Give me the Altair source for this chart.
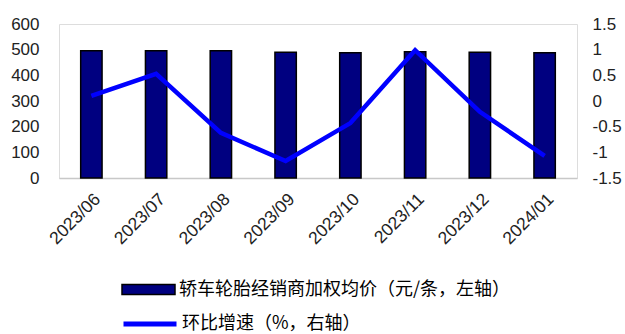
import altair as alt
import pandas as pd

months = ["2023/06", "2023/07", "2023/08", "2023/09", "2023/10", "2023/11", "2023/12", "2024/01"]
price = [496, 496, 496, 490, 488, 492, 490, 488]
mom = [0.1, 0.53, -0.62, -1.17, -0.43, 0.99, -0.21, -1.07]

bar_name = "轿车轮胎经销商加权均价（元/条，左轴）"
line_name = "环比增速（%，右轴）"

df = pd.DataFrame({"month": months, "price": price, "mom": mom,
                   "s1": [bar_name] * len(months), "s2": [line_name] * len(months)})

num_font = "Liberation Sans"
cjk_font = "Noto Sans CJK SC"

x_enc = alt.X("month:N", sort=months, title=None,
              scale=alt.Scale(paddingInner=0.67, paddingOuter=0.335),
              axis=alt.Axis(labelAngle=-45, labelFontSize=17.5, labelFont=num_font,
                            labelColor="#222222", ticks=False, domainColor="#c8c8c8",
                            domainWidth=1.5, labelPadding=12, grid=False))

bars = alt.Chart(df).mark_bar(stroke="black", strokeWidth=1.5).encode(
    x=x_enc,
    y=alt.Y("price:Q", title=None,
            scale=alt.Scale(domain=[0, 600], nice=False),
            axis=alt.Axis(values=[0, 100, 200, 300, 400, 500, 600], ticks=False,
                          domain=False, grid=False, labelFontSize=17,
                          labelFont=num_font, labelColor="#222222", labelPadding=20)),
    fill=alt.Fill("s1:N", title=None,
                  scale=alt.Scale(domain=[bar_name], range=["#000080"]),
                  legend=alt.Legend(orient="none", legendX=62, legendY=238,
                                    symbolType="M-1,-0.19H1V0.19H-1Z", symbolSize=2809,
                                    symbolStrokeColor="black", symbolStrokeWidth=1.5,
                                    labelFont=cjk_font, labelFontSize=18, labelColor="black",
                                    labelLimit=600, labelOffset=3, padding=0)),
)

line = alt.Chart(df).mark_line(strokeWidth=4.5).encode(
    x=alt.X("month:N", sort=months),
    y=alt.Y("mom:Q", title=None,
            scale=alt.Scale(domain=[-1.5, 1.5], nice=False),
            axis=alt.Axis(orient="right", values=[-1.5, -1, -0.5, 0, 0.5, 1, 1.5],
                          labelExpr="'' + datum.value", ticks=False, domain=False,
                          grid=False, labelFontSize=17, labelFont=num_font,
                          labelColor="#222222", labelPadding=15)),
    stroke=alt.Stroke("s2:N", title=None,
                      scale=alt.Scale(domain=[line_name], range=["#0000FF"]),
                      legend=alt.Legend(orient="none", legendX=62, legendY=271,
                                        symbolType="stroke", symbolSize=2809,
                                        symbolStrokeWidth=5,
                                        labelFont=cjk_font, labelFontSize=18, labelColor="black",
                                        labelLimit=600, labelOffset=3, padding=0)),
)

chart = alt.layer(bars, line).resolve_scale(y="independent", fill="independent", stroke="independent").properties(
    width=518, height=154,
    autosize=alt.AutoSizeParams(type="none"),
    padding={"left": 59, "top": 24, "right": 48, "bottom": 156},
).configure_view(stroke=None).configure(background="white")

chart.save("out.html", embed_options={"renderer": "svg", "actions": False})
